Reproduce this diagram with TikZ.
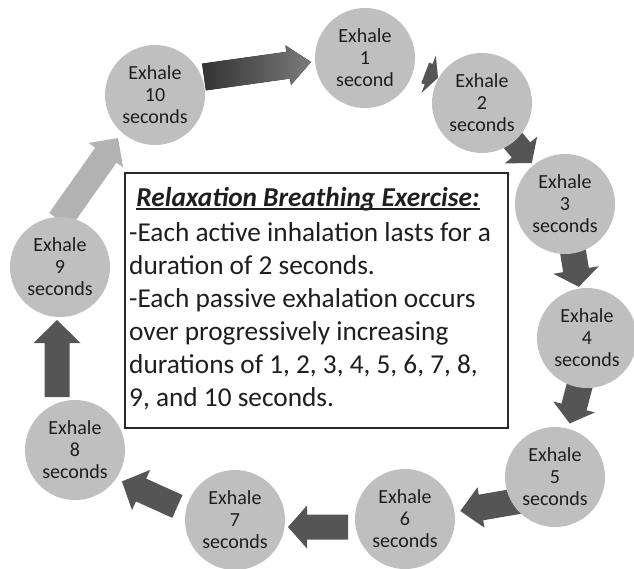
\documentclass[tikz,border=0pt]{standalone}
\usepackage{fontspec}
\setmainfont{Carlito}
\usetikzlibrary{calc}
\definecolor{circ}{HTML}{BFBFBF}
\definecolor{darr}{HTML}{555555}
\definecolor{larr}{HTML}{B2B2B2}
\definecolor{txt}{HTML}{1E1E1E}
\definecolor{boxline}{HTML}{2A2A2A}
\newcommand\blockarrow[6]{%
  \coordinate (ba-h) at ($(#2)!#5!(#1)$);
  \fill[#6] ($(#1)!#3!90:(#2)$) -- ($(ba-h)!#3!90:(#2)$) -- ($(ba-h)!#4!90:(#2)$) -- (#2)
    -- ($(ba-h)!#4!-90:(#2)$) -- ($(ba-h)!#3!-90:(#2)$) -- ($(#1)!#3!-90:(#2)$) -- cycle;}
\newcommand\ulbox[1]{\sbox0{#1}\rlap{\rule[-3.5pt]{\wd0}{1.7pt}}\usebox0}
\tikzset{
  circnode/.style={circle, fill=circ, minimum size=100pt, inner sep=0pt, align=center,
    font=\fontsize{20}{22}\selectfont, text=txt},
  boxline/.style={anchor=base west, inner sep=0pt, font=\fontsize{27.3}{33}\selectfont, text=txt},
  darkarrow/.style={fill=darr},
  lightarrow/.style={fill=larr},
}
\begin{document}
\begin{tikzpicture}[x=1pt,y=-1pt]
\useasboundingbox (0,0) rectangle (634,568);
% arrow end points
\coordinate (a1t) at (204,77);   \coordinate (a1p) at (311,62);
\coordinate (a2t) at (425.2,72.9);   \coordinate (a2p) at (438,77.8);
\coordinate (a3t) at (502,127);\coordinate (a3p) at (531.8,163.1);
\coordinate (a4t) at (569.5,230.5); \coordinate (a4p) at (578.8,286.8);
\coordinate (a5t) at (586.7,358.7); \coordinate (a5p) at (569.7,423.4);
\coordinate (a6t) at (520.4,500.7); \coordinate (a6p) at (460.3,511);
\coordinate (a7t) at (348,527);  \coordinate (a7p) at (288,527);
\coordinate (a8t) at (177.4,506.4); \coordinate (a8p) at (121.9,481.4);
\coordinate (a9t) at (57,397);   \coordinate (a9p) at (57,320);
\coordinate (a10t) at (59.8,220.4); \coordinate (a10p) at (118,138);
% arrows (behind circles)
\blockarrow{a1t}{a1p}{13.5pt}{20pt}{23pt}{left color=black!80, right color=black!52}
\blockarrow{a2t}{a2p}{11pt}{20pt}{10pt}{darkarrow}
\blockarrow{a3t}{a3p}{12pt}{21pt}{17pt}{darkarrow}
\blockarrow{a4t}{a4p}{13pt}{23pt}{17pt}{darkarrow}
\blockarrow{a5t}{a5p}{13pt}{21.5pt}{17pt}{darkarrow}
\blockarrow{a6t}{a6p}{13pt}{20.5pt}{21pt}{darkarrow}
\blockarrow{a7t}{a7p}{12.5pt}{21.5pt}{19pt}{darkarrow}
\blockarrow{a8t}{a8p}{12.5pt}{22pt}{21pt}{darkarrow}
\blockarrow{a9t}{a9p}{12.5pt}{23.5pt}{23pt}{darkarrow}
\blockarrow{a10t}{a10p}{13pt}{21pt}{21pt}{lightarrow}
% circles
\node[circnode] (c1) at (365,58) {Exhale\\1\\second};
\node[circnode] (c2) at (482,103) {Exhale\\2\\seconds};
\node[circnode] (c3) at (565,204) {Exhale\\3\\seconds};
\node[circnode] (c4) at (587,338) {Exhale\\4\\seconds};
\node[circnode] (c5) at (555,477) {Exhale\\5\\seconds};
\node[circnode] (c6) at (405,519) {Exhale\\6\\seconds};
\node[circnode] (c7) at (235,520) {Exhale\\7\\seconds};
\node[circnode] (c8) at (75,450) {Exhale\\8\\seconds};
\node[circnode] (c9) at (60,267) {Exhale\\9\\seconds};
\node[circnode] (c10) at (155,95) {Exhale\\10\\seconds};
% text box
\node[draw=boxline, line width=2pt, minimum width=383pt, minimum height=255pt, inner sep=0pt] (box) at (316.5,300.5) {};
\node[anchor=base, inner sep=0pt, font=\fontsize{27.3}{33}\selectfont, text=txt] (t1) at (308,206)
  {\ulbox{\bfseries\itshape Relaxation Breathing Exercise:}};
\node[boxline] (t2) at (129,241) {-Each active inhalation lasts for a};
\node[boxline] (t3) at (129,274) {duration of 2 seconds.};
\node[boxline] (t4) at (129,307) {-Each passive exhalation occurs};
\node[boxline] (t5) at (129,340) {over progressively increasing};
\node[boxline] (t6) at (129,373) {durations of 1, 2, 3, 4, 5, 6, 7, 8,};
\node[boxline] (t7) at (129,406) {9, and 10 seconds.};
\end{tikzpicture}
\end{document}
